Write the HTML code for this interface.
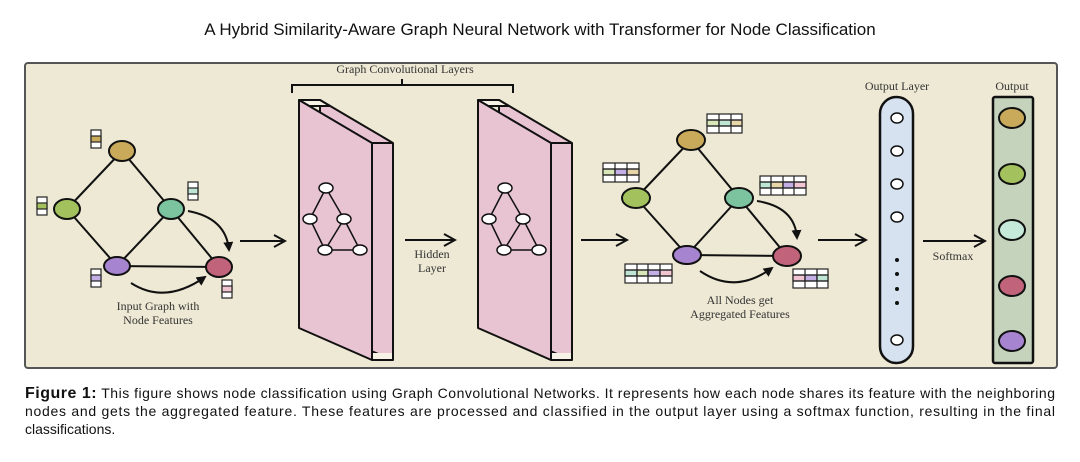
<!DOCTYPE html>
<html><head><meta charset="utf-8"><style>
html,body{margin:0;padding:0;background:#fff;width:1080px;height:462px;overflow:hidden}
svg{display:block}
.s{font-family:"Liberation Serif",serif;fill:#333}
.a{font-family:"Liberation Sans","DejaVu Sans",sans-serif;fill:#111}
</style></head><body>
<svg width="1080" height="462" viewBox="0 0 1080 462" xmlns="http://www.w3.org/2000/svg">
<defs>
<marker id="ah" markerWidth="10" markerHeight="10" refX="8" refY="5" orient="auto" markerUnits="userSpaceOnUse"><path d="M0,0 L10,5 L0,10 z" fill="#111"/></marker>
<marker id="oa" markerWidth="14" markerHeight="14" refX="12" refY="7" orient="auto" markerUnits="userSpaceOnUse"><path d="M1,1 L12,7 L1,13" fill="none" stroke="#111" stroke-width="2"/></marker>
</defs>
<text x="540" y="35" text-anchor="middle" class="a" font-size="17">A Hybrid Similarity-Aware Graph Neural Network with Transformer for Node Classification</text>
<rect x="25" y="63" width="1032" height="305" rx="3" fill="#eee9d4" stroke="#555" stroke-width="2"/>

<g stroke="#111" stroke-width="2">
<line x1="122" y1="151" x2="67" y2="209"/><line x1="122" y1="151" x2="171" y2="209"/>
<line x1="67" y1="209" x2="117" y2="266"/><line x1="171" y1="209" x2="117" y2="266"/>
<line x1="171" y1="209" x2="219" y2="267"/><line x1="117" y1="266" x2="219" y2="267"/>
<path d="M188,211 Q226,218 229,250" fill="none" marker-end="url(#ah)"/>
<path d="M131,283 Q165,305 205,277" fill="none" marker-end="url(#ah)"/>
<ellipse cx="122" cy="151" rx="13" ry="10" fill="#c8aa5a"/>
<ellipse cx="67" cy="209" rx="13" ry="10" fill="#a3c25e"/>
<ellipse cx="171" cy="209" rx="13" ry="10" fill="#7cc4a0"/>
<ellipse cx="117" cy="266" rx="13" ry="9" fill="#a784d0"/>
<ellipse cx="219" cy="267" rx="13" ry="10" fill="#c1637a"/>
</g>
<g stroke="#222" stroke-width="1.2">
<rect x="91" y="130" width="10" height="18" fill="#fff"/><rect x="91" y="136" width="10" height="6" fill="#c8aa5a"/>
<rect x="37" y="197" width="10" height="18" fill="#fff"/><rect x="37" y="203" width="10" height="6" fill="#a3c25e"/>
<rect x="188" y="182" width="10" height="18" fill="#fff"/><rect x="188" y="188" width="10" height="6" fill="#bfe6d4"/>
<rect x="91" y="269" width="10" height="18" fill="#fff"/><rect x="91" y="275" width="10" height="6" fill="#c4aee6"/>
<rect x="222" y="280" width="10" height="18" fill="#fff"/><rect x="222" y="286" width="10" height="6" fill="#f0c4d0"/>
</g>
<text x="158" y="310" text-anchor="middle" class="s" font-size="12">Input Graph with</text>
<text x="158" y="324" text-anchor="middle" class="s" font-size="12">Node Features</text>
<line x1="240" y1="241" x2="285" y2="241" stroke="#111" stroke-width="2" marker-end="url(#oa)"/>

<text x="405" y="73" text-anchor="middle" class="s" font-size="12">Graph Convolutional Layers</text>
<path d="M292,93 V85 H513 V93 M402,85 V79" fill="none" stroke="#111" stroke-width="2"/>

<g id="p1" stroke="#111" stroke-width="2" stroke-linejoin="round">
<polygon points="320,100 393,143 393,360 320,330" fill="#e8c4d3"/>
<polygon points="299,100 320,100 330,106 309,106" fill="#f7f2e6"/>
<polygon points="299,100 372,143 372,360 299,328" fill="#e8c4d3"/>
<polygon points="373,353 392,353 392,359 373,359" fill="#f7f2e6" stroke="none"/>
<line x1="372" y1="143" x2="393" y2="143"/>
<line x1="372" y1="360" x2="393" y2="360"/>
<g stroke-width="1.5">
<line x1="326" y1="188" x2="310" y2="219"/><line x1="326" y1="188" x2="344" y2="219"/>
<line x1="310" y1="219" x2="325" y2="250"/><line x1="344" y1="219" x2="325" y2="250"/>
<line x1="344" y1="219" x2="360" y2="250"/><line x1="325" y1="250" x2="360" y2="250"/>
<g fill="#fff"><ellipse cx="326" cy="188" rx="7" ry="5"/><ellipse cx="310" cy="219" rx="7" ry="5"/><ellipse cx="344" cy="219" rx="7" ry="5"/><ellipse cx="325" cy="250" rx="7" ry="5"/><ellipse cx="360" cy="250" rx="7" ry="5"/></g>
</g>
</g>
<use href="#p1" x="179" y="0"/>
<line x1="405" y1="240" x2="455" y2="240" stroke="#111" stroke-width="2" marker-end="url(#oa)"/>
<text x="432" y="258" text-anchor="middle" class="s" font-size="12">Hidden</text>
<text x="432" y="272" text-anchor="middle" class="s" font-size="12">Layer</text>
<line x1="581" y1="240" x2="627" y2="240" stroke="#111" stroke-width="2" marker-end="url(#oa)"/>

<g stroke="#111" stroke-width="2">
<line x1="691" y1="140" x2="636" y2="198"/><line x1="691" y1="140" x2="739" y2="198"/>
<line x1="636" y1="198" x2="687" y2="255"/><line x1="739" y1="198" x2="687" y2="255"/>
<line x1="739" y1="198" x2="787" y2="256"/><line x1="687" y1="255" x2="787" y2="256"/>
<path d="M757,201 Q795,207 797,238" fill="none" marker-end="url(#ah)"/>
<path d="M700,271 Q735,295 772,268" fill="none" marker-end="url(#ah)"/>
<ellipse cx="691" cy="140" rx="14" ry="10" fill="#c8aa5a"/>
<ellipse cx="636" cy="198" rx="14" ry="10" fill="#a3c25e"/>
<ellipse cx="739" cy="198" rx="14" ry="10" fill="#7cc4a0"/>
<ellipse cx="687" cy="255" rx="14" ry="9" fill="#a784d0"/>
<ellipse cx="787" cy="256" rx="14" ry="10" fill="#c1637a"/>
</g>
<g stroke="#222" stroke-width="1.2" fill="#fff">
<rect x="707" y="114" width="35" height="19"/><rect x="707" y="120" width="12" height="6" fill="#d8e6b8"/><rect x="719" y="120" width="12" height="6" fill="#bfe6d4"/><rect x="731" y="120" width="11" height="6" fill="#e6d6a8"/>
<line x1="719" y1="114" x2="719" y2="133"/><line x1="731" y1="114" x2="731" y2="133"/><line x1="707" y1="120" x2="742" y2="120"/><line x1="707" y1="126" x2="742" y2="126"/>
<rect x="603" y="163" width="36" height="19"/><rect x="603" y="169" width="12" height="6" fill="#d8e6b8"/><rect x="615" y="169" width="12" height="6" fill="#c4aee6"/><rect x="627" y="169" width="12" height="6" fill="#e6d6a8"/>
<line x1="615" y1="163" x2="615" y2="182"/><line x1="627" y1="163" x2="627" y2="182"/><line x1="603" y1="169" x2="639" y2="169"/><line x1="603" y1="175" x2="639" y2="175"/>
<rect x="760" y="176" width="46" height="19"/><rect x="760" y="182" width="11" height="6" fill="#bfe6d4"/><rect x="771" y="182" width="12" height="6" fill="#e6d6a8"/><rect x="783" y="182" width="11" height="6" fill="#c4aee6"/><rect x="794" y="182" width="12" height="6" fill="#f0c4d0"/>
<line x1="771" y1="176" x2="771" y2="195"/><line x1="783" y1="176" x2="783" y2="195"/><line x1="794" y1="176" x2="794" y2="195"/><line x1="760" y1="182" x2="806" y2="182"/><line x1="760" y1="188" x2="806" y2="188"/>
<rect x="625" y="264" width="47" height="19"/><rect x="625" y="270" width="12" height="6" fill="#bfe6d4"/><rect x="637" y="270" width="11" height="6" fill="#d8e6b8"/><rect x="648" y="270" width="12" height="6" fill="#c4aee6"/><rect x="660" y="270" width="12" height="6" fill="#f0c4d0"/>
<line x1="637" y1="264" x2="637" y2="283"/><line x1="648" y1="264" x2="648" y2="283"/><line x1="660" y1="264" x2="660" y2="283"/><line x1="625" y1="270" x2="672" y2="270"/><line x1="625" y1="276" x2="672" y2="276"/>
<rect x="793" y="269" width="35" height="19"/><rect x="793" y="275" width="12" height="6" fill="#f0c4d0"/><rect x="805" y="275" width="12" height="6" fill="#c4aee6"/><rect x="817" y="275" width="11" height="6" fill="#bfe6d4"/>
<line x1="805" y1="269" x2="805" y2="288"/><line x1="817" y1="269" x2="817" y2="288"/><line x1="793" y1="275" x2="828" y2="275"/><line x1="793" y1="281" x2="828" y2="281"/>
</g>
<text x="740" y="304" text-anchor="middle" class="s" font-size="12">All Nodes get</text>
<text x="740" y="318" text-anchor="middle" class="s" font-size="12">Aggregated Features</text>
<line x1="818" y1="240" x2="866" y2="240" stroke="#111" stroke-width="2" marker-end="url(#oa)"/>

<text x="897" y="90" text-anchor="middle" class="s" font-size="12">Output Layer</text>
<rect x="880" y="97" width="33" height="266" rx="16.5" fill="#d6e2f0" stroke="#111" stroke-width="2.5"/>
<g fill="#fff" stroke="#111" stroke-width="1.5">
<ellipse cx="897" cy="118" rx="6" ry="5"/><ellipse cx="897" cy="151" rx="6" ry="5"/><ellipse cx="897" cy="184" rx="6" ry="5"/><ellipse cx="897" cy="217" rx="6" ry="5"/><ellipse cx="897" cy="340" rx="6" ry="5"/>
</g>
<g fill="#111"><circle cx="897" cy="260" r="2"/><circle cx="897" cy="274" r="2"/><circle cx="897" cy="289" r="2"/><circle cx="897" cy="303" r="2"/></g>
<line x1="923" y1="241" x2="985" y2="241" stroke="#111" stroke-width="2" marker-end="url(#oa)"/>
<text x="953" y="260" text-anchor="middle" class="s" font-size="12">Softmax</text>

<text x="1012" y="90" text-anchor="middle" class="s" font-size="12">Output</text>
<rect x="993" y="97" width="40" height="266" rx="2" fill="#c5d3bd" stroke="#111" stroke-width="2.5"/>
<g stroke="#111" stroke-width="2">
<ellipse cx="1012" cy="118" rx="13" ry="10" fill="#c8aa5a"/>
<ellipse cx="1012" cy="174" rx="13" ry="10" fill="#a3c25e"/>
<ellipse cx="1012" cy="230" rx="13" ry="10" fill="#c6ead9"/>
<ellipse cx="1012" cy="286" rx="13" ry="10" fill="#c1637a"/>
<ellipse cx="1012" cy="341" rx="13" ry="10" fill="#a784d0"/>
</g>

<text x="25" y="398" class="a" font-size="14" textLength="1030" lengthAdjust="spacing"><tspan font-weight="bold" font-size="16">Figure 1:</tspan> This figure shows node classification using Graph Convolutional Networks. It represents how each node shares its feature with the neighboring</text>
<text x="25" y="416" class="a" font-size="14" textLength="1030" lengthAdjust="spacing">nodes and gets the aggregated feature. These features are processed and classified in the output layer using a softmax function, resulting in the final</text>
<text x="25" y="434" class="a" font-size="14">classifications.</text>
</svg>
</body></html>
